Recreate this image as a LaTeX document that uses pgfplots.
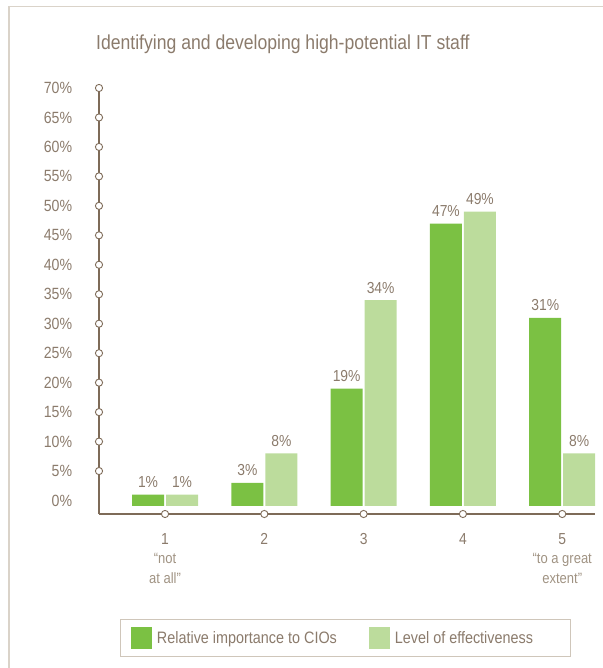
\documentclass[border=0pt]{standalone}
\usepackage{fontspec}
\setmainfont{Liberation Sans}[FakeStretch=0.87]
\usepackage{pgfplots}
\pgfplotsset{compat=1.18}
\definecolor{dgreen}{HTML}{7BC143}
\definecolor{lgreen}{HTML}{BCDC9C}
\definecolor{txt}{HTML}{8B7B6C}
\definecolor{txtl}{HTML}{A09383}
\definecolor{axc}{HTML}{7E6B58}
\definecolor{legb}{HTML}{CFC6BA}
\definecolor{framec}{HTML}{DAD3C9}
\newcommand{\sub}[1]{{\color{txtl}\fontsize{15}{19.5}\selectfont #1}}
\begin{document}
\begin{tikzpicture}
\begin{axis}[
  at={(99bp,154bp)}, anchor=south west,
  scale only axis, width=496bp, height=426bp,
  xmin=0.335, xmax=5.33, ymin=-1.39, ymax=70.9,
  y filter/.expression={y+0.9},
  clip=false,
  axis lines=left,
  axis line style={draw=axc, line width=1.1pt, -},
  major tick length=0pt,
  ytick={0.9,5.9,10.9,15.9,20.9,25.9,30.9,35.9,40.9,45.9,50.9,55.9,60.9,65.9,70.9},
  yticklabels={0\%,5\%,10\%,15\%,20\%,25\%,30\%,35\%,40\%,45\%,50\%,55\%,60\%,65\%,70\%},
  yticklabel style={anchor=east, inner sep=0pt, xshift=-26.7bp, font=\fontsize{16.3}{19}\selectfont, text=txt},
  xtick={1,2,3,4,5},
  xticklabels={{1\\\sub{“not}\\\sub{at all”}},2,3,4,{5\\\sub{“to a great}\\\sub{extent”}}},
  xticklabel style={align=center, anchor=north, inner sep=0pt, yshift=-19bp, font=\fontsize{16}{19.5}\selectfont, text=txt},
  /pgf/number format/assume math mode=true,
  legend columns=2,
  legend style={at={(0.497,0)}, anchor=north, yshift=-105bp, draw=legb, line width=1pt, fill=white,
    inner xsep=10bp, inner ysep=8bp, font=\fontsize{16.6}{19}\selectfont, text=txt,
    nodes={inner sep=0pt},
    /tikz/every odd column/.append style={column sep=5bp},
    /tikz/every even column/.append style={column sep=32bp}},
  legend cell align=left,
  legend image code/.code={\fill[#1] (0bp,-10.5bp) rectangle (21bp,10.5bp);},
]
\addplot[ybar, bar width=32bp, bar shift=-17bp, fill=dgreen, draw=none,
  point meta=rawy, nodes near coords={\pgfmathprintnumber{\pgfplotspointmeta}\%},
  every node near coord/.append style={anchor=south, inner sep=0pt, xshift=-17bp, yshift=6.5bp, font=\fontsize{16}{19}\selectfont, text=txt}]
  coordinates {(1,1) (2,3) (3,19) (4,47) (5,31)};
\addlegendentry{Relative importance to CIOs}
\addplot[ybar, bar width=32bp, bar shift=17bp, fill=lgreen, draw=none,
  point meta=rawy, nodes near coords={\pgfmathprintnumber{\pgfplotspointmeta}\%},
  every node near coord/.append style={anchor=south, inner sep=0pt, xshift=17bp, yshift=6.5bp, font=\fontsize{16}{19}\selectfont, text=txt}]
  coordinates {(1,1) (2,8) (3,34) (4,49) (5,8)};
\addlegendentry{Level of effectiveness\hspace*{27bp}}
\addplot[forget plot, only marks, mark=*, mark size=3.6bp, mark options={fill=white, draw=axc, line width=0.9pt}]
  coordinates {(0.335,5) (0.335,10) (0.335,15) (0.335,20) (0.335,25) (0.335,30) (0.335,35) (0.335,40) (0.335,45) (0.335,50) (0.335,55) (0.335,60) (0.335,65) (0.335,70)};
\addplot[forget plot, only marks, mark=*, mark size=3.6bp, mark options={fill=white, draw=axc, line width=0.9pt}]
  coordinates {(1,-2.29) (2,-2.29) (3,-2.29) (4,-2.29) (5,-2.29)};
\end{axis}
\node[anchor=base west, inner sep=0pt, text=txt, font=\fontsize{20.3}{24}\selectfont] at (96bp,618.7bp) {Identifying and developing high-potential IT staff};
\draw[framec, line width=1.2pt] (9bp,0bp) -- (9bp,661.5bp) -- (603bp,661.5bp);
\pgfresetboundingbox
\path[use as bounding box] (0bp,0bp) rectangle (603bp,668bp);
\end{tikzpicture}
\end{document}
